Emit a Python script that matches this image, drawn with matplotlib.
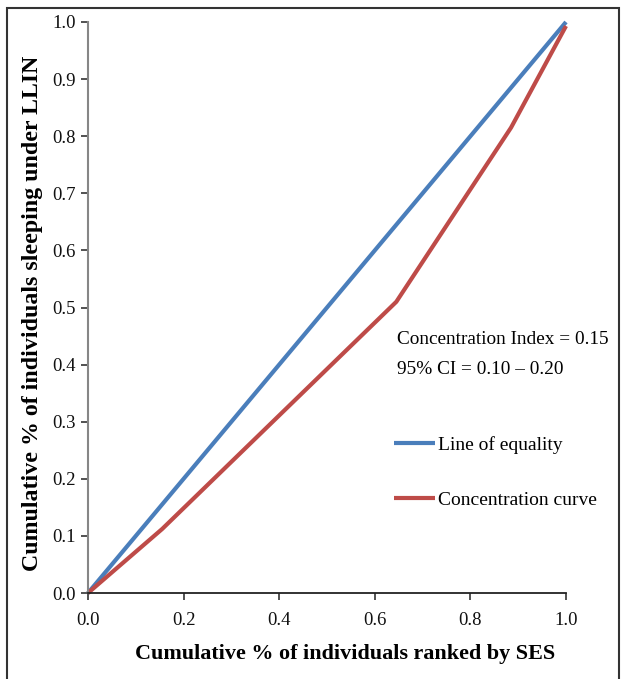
import matplotlib
matplotlib.use('Agg')
import matplotlib.pyplot as plt
from matplotlib.patches import Rectangle

plt.rcParams['font.family'] = ['Liberation Serif', 'DejaVu Serif']

# cumulative share of individuals ranked by SES
equality_x = [0.0, 1.0]
equality_y = [0.0, 1.0]
conc_x = [0.0, 0.155, 0.40, 0.645, 0.885, 1.0]
conc_y = [0.0, 0.112, 0.311, 0.51, 0.815, 0.993]

ci_text = 'Concentration Index = 0.15'
ci_range = '95% CI = 0.10 \u2013 0.20'

blue = '#4A7EBB'
red = '#BE4B48'
grey = '#868686'

fig = plt.figure(figsize=(6.21, 6.79), dpi=100)
ax = fig.add_axes([88 / 621, 86 / 679, 478 / 621, 571 / 679])

ax.plot(equality_x, equality_y, color=blue, lw=3.0, label='Line of equality',
        solid_capstyle='butt', clip_on=False)
ax.plot(conc_x, conc_y, color=red, lw=3.0, label='Concentration curve',
        solid_capstyle='butt', clip_on=False)

ax.set_xlim(0, 1)
ax.set_ylim(0, 1)
ax.set_xticks([0, 0.2, 0.4, 0.6, 0.8, 1.0])
ax.set_yticks([i / 10 for i in range(11)])
ax.xaxis.set_major_formatter(plt.FormatStrFormatter('%.1f'))
ax.yaxis.set_major_formatter(plt.FormatStrFormatter('%.1f'))
ax.tick_params(direction='out', length=5, width=1.2, color='#333333',
               labelsize=13.5, labelcolor='#111111')
ax.tick_params(axis='x', pad=9)
ax.tick_params(axis='y', pad=4)

for s in ['top', 'right']:
    ax.spines[s].set_visible(False)
ax.spines['left'].set_color(grey)
ax.spines['left'].set_linewidth(1.5)
ax.spines['bottom'].set_color('#222222')
ax.spines['bottom'].set_linewidth(1.3)

ax.set_xlabel('Cumulative % of individuals ranked by SES', fontsize=15.9,
              fontweight='bold')
ax.xaxis.set_label_coords((345.5 - 88) / 478, -(654 - 593) / 571)
ax.xaxis.label.set_va('center')
ax.set_ylabel('Cumulative % of individuals sleeping under LLIN', fontsize=17.2,
              fontweight='bold')
ax.yaxis.set_label_coords(-(88 - 33) / 478, 0.4895)
ax.yaxis.label.set_va('center')

fig.text(397 / 621, 1 - 339 / 679, ci_text, fontsize=13.9, va='center', ha='left')
fig.text(397 / 621, 1 - 370 / 679, ci_range, fontsize=13.9, va='center', ha='left')

leg = ax.legend(loc='upper left', bbox_to_anchor=(386 / 621, 1 - 428 / 679),
                bbox_transform=fig.transFigure, frameon=False, fontsize=14,
                handlelength=2.1, handletextpad=0.15, labelspacing=1.95,
                borderaxespad=0)

# outer frame
fig.patches.append(Rectangle((7 / 621, -0.05), 612 / 621, 1 - 8 / 679 + 0.05,
                             transform=fig.transFigure, fill=False,
                             edgecolor='#333333', lw=1.5))

fig.savefig('out.png', dpi=100)
